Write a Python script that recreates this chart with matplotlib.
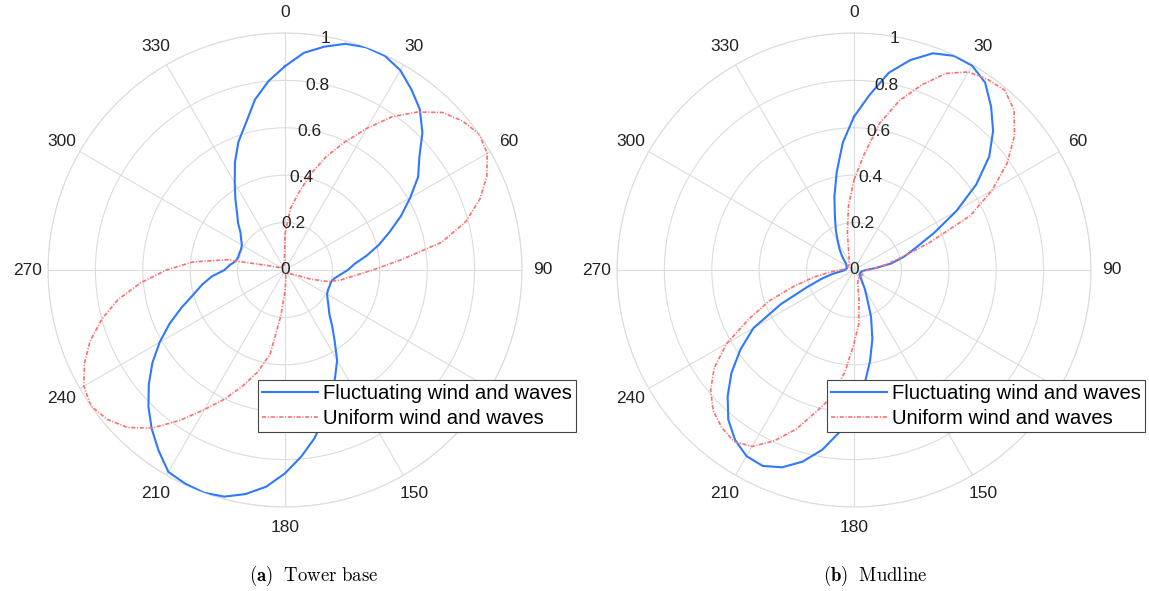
import numpy as np
import matplotlib
matplotlib.use("Agg")
import matplotlib.pyplot as plt

plt.rcParams['font.family'] = ['Liberation Sans', 'DejaVu Sans']
plt.rcParams['mathtext.fontset'] = 'cm'
plt.rcParams['lines.scale_dashes'] = False

# ---------------- data ----------------
angles_deg = list(range(0, 360, 5))

tower_fluct = [0.86, 0.92, 0.957, 0.988, 1.0, 0.997, 0.973, 0.93, 0.885, 0.82,
               0.74, 0.686, 0.61, 0.54, 0.47, 0.41, 0.35, 0.295, 0.265, 0.233,
               0.21, 0.20, 0.20, 0.20, 0.205, 0.22, 0.24, 0.265, 0.31, 0.365,
               0.44, 0.50, 0.57, 0.64, 0.72, 0.79, 0.858, 0.918, 0.96, 0.99,
               1.0, 0.995, 0.984, 0.93, 0.875, 0.815, 0.75, 0.683, 0.611, 0.538,
               0.465, 0.40, 0.355, 0.31, 0.255, 0.235, 0.212, 0.205, 0.205, 0.205,
               0.21, 0.226, 0.245, 0.28, 0.315, 0.365, 0.424, 0.50, 0.575, 0.64,
               0.73, 0.80]

tower_uniform = [0.15, 0.26, 0.33, 0.42, 0.51, 0.595, 0.69, 0.79, 0.87, 0.94,
                 0.978, 1.0, 0.985, 0.94, 0.875, 0.79, 0.67, 0.49, 0.37, 0.29,
                 0.24, 0.19, 0.11, 0.05, 0.035, 0.03, 0.025, 0.02, 0.02, 0.02,
                 0.02, 0.02, 0.02, 0.02, 0.02, 0.04, 0.09, 0.19, 0.36, 0.445,
                 0.52, 0.60, 0.68, 0.775, 0.87, 0.94, 0.98, 1.0, 0.98, 0.934,
                 0.875, 0.80, 0.715, 0.61, 0.50, 0.39, 0.25, 0.07, 0.035, 0.02,
                 0.02, 0.02, 0.02, 0.02, 0.02, 0.02, 0.02, 0.02, 0.02, 0.02,
                 0.02, 0.03]

mud_fluct = [0.647, 0.74, 0.845, 0.917, 0.973, 0.997, 0.996, 0.965, 0.90, 0.83,
             0.745, 0.63, 0.50, 0.375, 0.28, 0.22, 0.16, 0.09, 0.05, 0.04,
             0.035, 0.03, 0.03, 0.03, 0.03, 0.03, 0.03, 0.035, 0.045, 0.06,
             0.09, 0.13, 0.21, 0.30, 0.39, 0.49, 0.59, 0.685, 0.77, 0.837,
             0.886, 0.912, 0.907, 0.875, 0.825, 0.754, 0.675, 0.585, 0.49, 0.34,
             0.21, 0.14, 0.09, 0.05, 0.04, 0.035, 0.035, 0.03, 0.03, 0.035,
             0.035, 0.04, 0.045, 0.06, 0.08, 0.105, 0.135, 0.18, 0.235, 0.32,
             0.42, 0.54]

mud_uniform = [0.38, 0.49, 0.63, 0.74, 0.83, 0.915, 0.965, 0.982, 0.99, 0.955,
               0.884, 0.79, 0.673, 0.54, 0.34, 0.21, 0.14, 0.09, 0.06, 0.045,
               0.04, 0.04, 0.04, 0.04, 0.04, 0.04, 0.04, 0.04, 0.04, 0.04,
               0.04, 0.04, 0.05, 0.06, 0.12, 0.23, 0.31, 0.43, 0.545, 0.62,
               0.715, 0.795, 0.86, 0.883, 0.868, 0.84, 0.79, 0.72, 0.62, 0.49,
               0.38, 0.26, 0.17, 0.10, 0.06, 0.04, 0.035, 0.03, 0.03, 0.03,
               0.03, 0.03, 0.03, 0.03, 0.03, 0.035, 0.04, 0.05, 0.06, 0.09,
               0.16, 0.27]

theta_ticks = list(range(0, 360, 30))
theta_labels = [str(t) for t in theta_ticks]
r_ticks = [0, 0.2, 0.4, 0.6, 0.8, 1.0]
r_labels = ['0', '0.2', '0.4', '0.6', '0.8', '1']
series_names = ['Fluctuating wind and waves', 'Uniform wind and waves']
captions = [(r'$\mathbf{(a)}$', r'$\mathrm{Tower\ base}$'),
            (r'$\mathbf{(b)}$', r'$\mathrm{Mudline}$')]

BLUE = '#2f78ff'
RED = '#ff6e6e'
GRID = '#dcdcdc'

W, H = 1149, 591
fig = plt.figure(figsize=(W / 100, H / 100), dpi=100)

def closed(vals):
    th = np.deg2rad(np.array(angles_deg + [angles_deg[0] + 360]))
    r = np.array(list(vals) + [vals[0]])
    return th, r

panels = [(285, tower_fluct, tower_uniform), (854, mud_fluct, mud_uniform)]
R = 237
cy = 270
axes = []
for cx, fl, un in panels:
    ax = fig.add_axes([(cx - R) / W, (H - cy - R) / H, 2 * R / W, 2 * R / H],
                      projection='polar')
    ax.set_theta_zero_location('N')
    ax.set_theta_direction(-1)
    ax.set_ylim(0, 1)
    _, tlabels = ax.set_thetagrids(theta_ticks, theta_labels, fontsize=12.5,
                                   color='#222222')
    # the 120 label sits under the legend box in the reference
    for t, lab in zip(theta_ticks, tlabels):
        if t == 120:
            lab.set_visible(False)
    ax.set_rgrids(r_ticks[1:], labels=[''] * 5)
    ax.tick_params(axis='x', pad=4.5)
    ax.grid(True, color=GRID, linewidth=0.8)
    ax.spines['polar'].set_color(GRID)
    ax.spines['polar'].set_linewidth(0.8)
    for rv, lab in zip(r_ticks, r_labels):
        ax.text(np.deg2rad(10) if rv > 0 else 0, rv * 0.99, lab, ha='center', va='center',
                fontsize=12.5, color='#222222', zorder=5)
    th, r = closed(fl)
    ax.plot(th, r, color=BLUE, lw=1.5, label=series_names[0], zorder=3)
    th, r = closed(un)
    ax.plot(th, r, color=RED, lw=1.2, dashes=(3.0, 1.2, 0.8, 1.2),
            label=series_names[1], zorder=3)
    axes.append(ax)

for ax, lx in zip(axes, [257.7, 826.7]):
    leg = ax.legend(loc='upper left', bbox_to_anchor=(lx / W, (H - 380) / H),
                    bbox_transform=fig.transFigure, borderaxespad=0,
                    fontsize=14.6, handlelength=2.75, handletextpad=0.25,
                    borderpad=0.2, labelspacing=0.3, fancybox=False,
                    framealpha=1, edgecolor='#444444')
    leg.set_zorder(10)
    leg.get_frame().set_linewidth(0.8)

for (bold, rest), cx in zip(captions, [313.5, 875]):
    fig.text(cx / W, (H - 576) / H, bold + r'$\ \ $' + rest, ha='center', va='center',
             fontsize=13.5)

fig.savefig('out.png', dpi=100)
